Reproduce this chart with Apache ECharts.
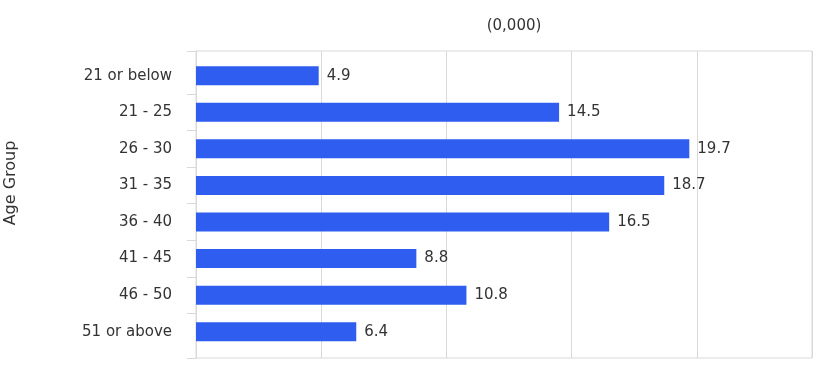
<!DOCTYPE html>
<html>
<head>
<meta charset="utf-8">
<script src="https://cdn.jsdelivr.net/npm/echarts@6/dist/echarts.min.js"></script>
<style>
  html, body { margin: 0; padding: 0; background: #fff; }
  #chart { width: 828px; height: 370px; }
</style>
</head>
<body>
<div id="chart"></div>
<script>
// 年龄段 / 数值 (单位: 0,000)
const ageGroups = ['21 or below', '21 - 25', '26 - 30', '31 - 35', '36 - 40', '41 - 45', '46 - 50', '51 or above'];
const counts = [4.9, 14.5, 19.7, 18.7, 16.5, 8.8, 10.8, 6.4];

const FONT = '"DejaVu Sans", "Noto Sans", sans-serif';
const gridColor = '#d9d9d9';
const textColor = '#333';

// 柱子区域上下边界, 每个类目的高度
const barTop = 57.4;
const barBottom = 20;
const band = (370 - barTop - barBottom) / ageGroups.length;

const myChart = echarts.init(document.getElementById('chart'));
myChart.setOption({
  animation: false,
  title: {
    text: '(0,000)',
    left: 509,
    textAlign: 'center',
    top: 14,
    textStyle: { fontFamily: FONT, fontSize: 15, fontWeight: 'normal', color: textColor }
  },
  graphic: [
    {
      type: 'text',
      x: 11,
      y: 183,
      rotation: Math.PI / 2,
      style: {
        text: 'Age Group',
        font: '16px ' + FONT,
        fill: textColor,
        align: 'center',
        verticalAlign: 'middle'
      }
    }
  ],
  grid: [
    // 外框 + 竖向网格线
    { left: 196, right: 16, top: 51, bottom: 12, show: true, borderColor: gridColor, borderWidth: 1 },
    // 柱子所在区域
    { left: 196, right: 16, top: barTop, bottom: barBottom },
    // 类目之间的刻度
    { left: 196, right: 16, top: barTop + band, bottom: barBottom + band }
  ],
  xAxis: [
    {
      gridIndex: 0, type: 'value', min: 0, max: 24.6, interval: 5,
      axisLabel: { show: false }, axisTick: { show: false }, axisLine: { show: false },
      splitLine: { show: true, lineStyle: { color: gridColor, width: 1 } }
    },
    {
      gridIndex: 1, type: 'value', min: 0, max: 24.6, interval: 5, show: false,
      splitLine: { show: false }
    },
    { gridIndex: 2, type: 'value', min: 0, max: 1, show: false, splitLine: { show: false } }
  ],
  yAxis: [
    {
      gridIndex: 0, type: 'value', min: 0, max: 1, interval: 1,
      axisLabel: { show: false }, splitLine: { show: false },
      axisTick: { show: true, length: 9, lineStyle: { color: gridColor } },
      axisLine: { show: true, lineStyle: { color: gridColor } }
    },
    {
      gridIndex: 1, type: 'category', data: ageGroups, inverse: true,
      axisLine: { show: false },
      axisTick: { show: false },
      axisLabel: { margin: 24, fontFamily: FONT, fontSize: 15, color: textColor }
    },
    {
      gridIndex: 2, type: 'value', min: 0, max: ageGroups.length - 2, interval: 1,
      axisLabel: { show: false }, splitLine: { show: false }, axisLine: { show: false },
      axisTick: { show: true, length: 9, lineStyle: { color: gridColor } }
    }
  ],
  series: [
    {
      type: 'bar',
      xAxisIndex: 1,
      yAxisIndex: 1,
      data: counts,
      barWidth: 19,
      itemStyle: { color: '#2e5df0' },
      label: {
        show: true,
        position: 'right',
        distance: 8,
        fontFamily: FONT,
        fontSize: 15,
        color: textColor
      }
    }
  ]
});
window.onresize = function () {
  myChart.resize();
};
</script>
</body>
</html>
